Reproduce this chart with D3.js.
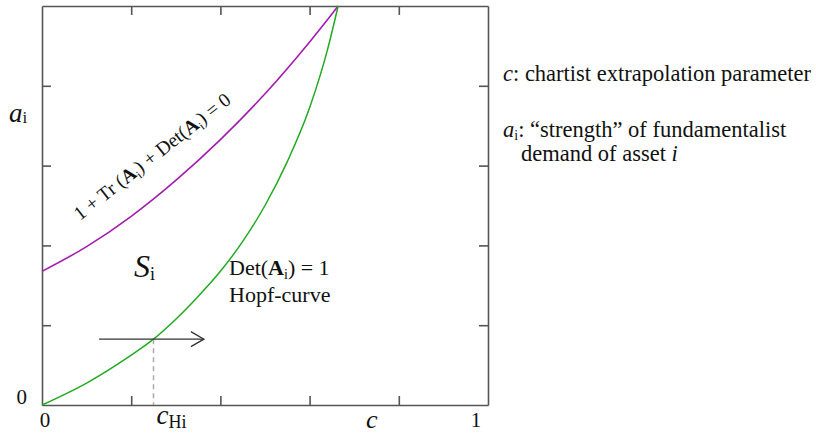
<!DOCTYPE html>
<html>
<head>
<meta charset="utf-8">
<script src="https://cdn.jsdelivr.net/npm/d3@7"></script>
<style>
  body { margin: 0; background: #fff; }
  text { font-family: "Liberation Serif", "Times New Roman", serif; fill: #111; }
</style>
</head>
<body>
<svg id="chart"></svg>
<script>
// curve 1 + Tr(A_i) + Det(A_i) = 0
const flipC = [0, 0.1, 0.2, 0.3, 0.4, 0.5, 0.6, 0.664];
const flipA = [0.335, 0.397, 0.473, 0.563, 0.665, 0.78, 0.91, 1.0];
// Hopf curve Det(A_i) = 1
const hopfC = [0, 0.1, 0.2, 0.25, 0.3, 0.35, 0.4, 0.45, 0.5, 0.55, 0.6, 0.64, 0.664];
const hopfA = [0, 0.055, 0.125, 0.165, 0.215, 0.272, 0.335, 0.41, 0.5, 0.61, 0.745, 0.89, 1.0];
const tickVals = [0.2, 0.4, 0.6, 0.8];
const cHopf = 0.25;          // c_Hi
const arrowC = [0.128, 0.363];

const width = 816, height = 434;
const svg = d3.select('#chart').attr('width', width).attr('height', height);

const x = d3.scaleLinear().domain([0, 1]).range([42, 488]);
const y = d3.scaleLinear().domain([0, 1]).range([405, 6]);

const axisColor = '#555';
function styleAxis(g) {
  g.selectAll('path, line').attr('stroke', axisColor).attr('stroke-width', 1.6);
  g.selectAll('text').remove();
}
svg.append('g').attr('transform', `translate(0,${y(0)})`)
  .call(d3.axisBottom(x).tickValues(tickVals).tickSize(-9).tickSizeOuter(0)).call(styleAxis);
svg.append('g').attr('transform', `translate(0,${y(1)})`)
  .call(d3.axisTop(x).tickValues(tickVals).tickSize(-9).tickSizeOuter(0)).call(styleAxis);
svg.append('g').attr('transform', `translate(${x(0)},0)`)
  .call(d3.axisLeft(y).tickValues(tickVals).tickSize(-9).tickSizeOuter(0)).call(styleAxis);
svg.append('g').attr('transform', `translate(${x(1)},0)`)
  .call(d3.axisRight(y).tickValues(tickVals).tickSize(-9).tickSizeOuter(0)).call(styleAxis);

// rich text helper: segments of {t, b (bold), i (italic), sub}
function rich(sel, segs, size) {
  let lowered = false;
  segs.forEach(s => {
    const ts = sel.append('tspan').text(s.t);
    if (s.b) ts.attr('font-weight', 'bold');
    if (s.i) ts.attr('font-style', 'italic');
    if (s.sub) {
      ts.attr('font-size', s.size || size * 0.68).attr('dy', lowered ? 0 : s.shift || 4);
      lowered = true;
    } else {
      if (s.size) ts.attr('font-size', s.size);
      if (lowered) { ts.attr('dy', -(s.back || 4)); lowered = false; }
    }
  });
  return sel;
}

// tick labels
svg.append('text').attr('x', x(0) + 3).attr('y', 427).attr('text-anchor', 'middle')
  .attr('font-size', 21).text('0');
svg.append('text').attr('x', x(1) - 12).attr('y', 427).attr('text-anchor', 'middle')
  .attr('font-size', 21).text('1');
svg.append('text').attr('x', 27).attr('y', y(0) - 1).attr('text-anchor', 'end')
  .attr('font-size', 21).text('0');

// axis titles
svg.append('text').attr('x', 366).attr('y', 428).attr('font-size', 26)
  .attr('font-style', 'italic').text('c');
rich(svg.append('text').attr('x', 9).attr('y', 122).attr('font-size', 27),
  [{ t: 'a', i: true }, { t: 'i', sub: true, size: 17, shift: 1 }], 27);

// curves
const line = d3.line().x(d => x(d[0])).y(d => y(d[1])).curve(d3.curveMonotoneX);
svg.append('path').datum(flipC.map((c, i) => [c, flipA[i]]))
  .attr('d', line).attr('fill', 'none').attr('stroke', '#a21caf').attr('stroke-width', 1.6);
svg.append('path').datum(hopfC.map((c, i) => [c, hopfA[i]]))
  .attr('d', line).attr('fill', 'none').attr('stroke', '#22aa22').attr('stroke-width', 1.5);

// crossing point of the arrow with the Hopf curve
const aHopf = d3.scaleLinear().domain(hopfC).range(hopfA)(cHopf);
svg.append('line')
  .attr('x1', x(cHopf)).attr('x2', x(cHopf)).attr('y1', y(aHopf)).attr('y2', y(0))
  .attr('stroke', '#aaa').attr('stroke-width', 1.5).attr('stroke-dasharray', '5,4');
const ay = y(aHopf);
svg.append('line')
  .attr('x1', x(arrowC[0])).attr('x2', x(arrowC[1])).attr('y1', ay).attr('y2', ay)
  .attr('stroke', '#333').attr('stroke-width', 1.3);
svg.append('path')
  .attr('d', `M${x(arrowC[1]) - 13},${ay - 7.5}L${x(arrowC[1])},${ay}L${x(arrowC[1]) - 13},${ay + 7.5}`)
  .attr('fill', 'none').attr('stroke', '#333').attr('stroke-width', 1.3);

// c_Hi label
rich(svg.append('text').attr('x', x(cHopf) + 3).attr('y', 424).attr('font-size', 27),
  [{ t: 'c', i: true }, { t: 'Hi', sub: true, size: 18, shift: 4 }], 27);

// S_i
rich(svg.append('text').attr('x', 134).attr('y', 277).attr('font-size', 32),
  [{ t: 'S', i: true }, { t: 'i', sub: true, size: 18, shift: 3 }], 32);

// Det(A_i) = 1 / Hopf-curve
rich(svg.append('text').attr('x', 229).attr('y', 275).attr('font-size', 22),
  [{ t: 'Det(' }, { t: 'A', b: true }, { t: 'i', sub: true, size: 14 }, { t: ') = 1' }], 22);
svg.append('text').attr('x', 229).attr('y', 302).attr('font-size', 22).text('Hopf-curve');

// rotated label along the upper curve
rich(svg.append('text').attr('transform', 'translate(80,221) rotate(-38)').attr('font-size', 19.5),
  [{ t: '1 + Tr (' }, { t: 'A', b: true }, { t: 'i', sub: true, size: 12 }, { t: ') + Det(' },
   { t: 'A', b: true }, { t: 'i', sub: true, size: 12 }, { t: ') = 0' }], 19.5);

// notes on the right
rich(svg.append('text').attr('x', 503).attr('y', 81).attr('font-size', 22.5),
  [{ t: 'c', i: true }, { t: ': chartist extrapolation parameter' }], 22.5);
rich(svg.append('text').attr('x', 503).attr('y', 137).attr('font-size', 22.5),
  [{ t: 'a', i: true }, { t: 'i', sub: true, size: 14, shift: 3 }, { t: ': \u201cstrength\u201d of fundamentalist', back: 3 }], 22.5);
rich(svg.append('text').attr('x', 521).attr('y', 161).attr('font-size', 22.5),
  [{ t: 'demand of asset ' }, { t: 'i', i: true }], 22.5);
</script>
</body>
</html>
